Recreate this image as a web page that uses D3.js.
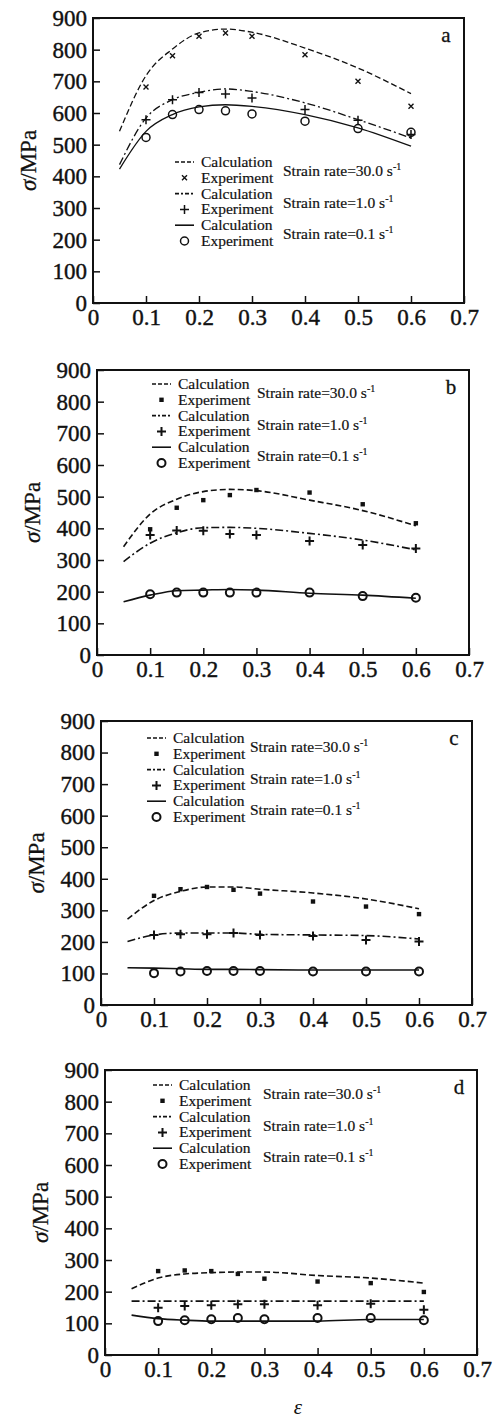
<!DOCTYPE html>
<html lang="en">
<head>
  <meta charset="utf-8">
  <title>Flow stress: calculation vs experiment</title>
  <script src="https://d3js.org/d3.v7.min.js"></script>
  <style>
    body { margin: 0; padding: 0; background: #fff; }
    svg { display: block; }
    svg text { font-family: "Liberation Serif", "Times New Roman", Times, serif; }
  </style>
</head>
<body>
  <svg id="chart" width="496" height="1418"></svg>
  <script>
    // strain values
    const calcX = [0.05, 0.1, 0.15, 0.2, 0.25, 0.3, 0.4, 0.5, 0.6];
    const expX = [0.1, 0.15, 0.2, 0.25, 0.3, 0.4, 0.5, 0.6];
    const xTicks = [0, 0.1, 0.2, 0.3, 0.4, 0.5, 0.6, 0.7];
    const xTickLabels = ["0", "0.1", "0.2", "0.3", "0.4", "0.5", "0.6", "0.7"];
    const yTicks = [0, 100, 200, 300, 400, 500, 600, 700, 800, 900];
    const rateLabels = ["30.0", "1.0", "0.1"];

    // panel a
    const aCalc30 = [542, 718, 802, 853, 865, 855, 805, 742, 661];
    const aExp30 = [682, 781, 842, 853, 842, 784, 700, 621];
    const aCalc1 = [437, 584, 642, 665, 676, 668, 632, 579, 521];
    const aExp1 = [579, 642, 665, 660, 647, 611, 577, 532];
    const aCalc01 = [423, 542, 595, 619, 626, 621, 595, 553, 495];
    const aExp01 = [523, 595, 611, 607, 597, 574, 551, 539];
    // panel b
    const bCalc30 = [342, 445, 492, 516, 523, 519, 489, 456, 408];
    const bExp30 = [397, 465, 489, 505, 521, 513, 476, 416];
    const bCalc1 = [295, 353, 386, 402, 403, 400, 384, 363, 332];
    const bExp1 = [379, 393, 392, 382, 379, 360, 347, 336];
    const bCalc01 = [168, 189, 203, 205, 207, 205, 195, 189, 179];
    const bExp01 = [192, 197, 197, 197, 197, 197, 186, 181];
    // panel c
    const cCalc30 = [272, 331, 360, 374, 374, 367, 355, 336, 305];
    const cExp30 = [346, 367, 374, 365, 353, 328, 312, 288];
    const cCalc1 = [201, 222, 228, 228, 228, 224, 222, 220, 209];
    const cExp1 = [222, 224, 224, 228, 222, 219, 206, 201];
    const cCalc01 = [118, 117, 115, 113, 113, 112, 111, 111, 111];
    const cExp01 = [101, 106, 108, 108, 108, 106, 106, 106];
    // panel d
    const dCalc30 = [209, 243, 256, 260, 262, 262, 251, 243, 227];
    const dExp30 = [265, 267, 265, 256, 241, 232, 227, 199];
    const dCalc1 = [170, 170, 170, 170, 170, 170, 170, 170, 170];
    const dExp1 = [149, 155, 157, 160, 160, 157, 162, 143];
    const dCalc01 = [126, 115, 110, 107, 107, 107, 107, 112, 112];
    const dExp01 = [107, 110, 113, 117, 113, 117, 117, 110];

    const panels = [
      { id: "a", left: 93, right: 464, top: 18, bottom: 303, legX: 175, legY: 162, rateX: 283, cross: true,
        calc: [aCalc30, aCalc1, aCalc01], exp: [aExp30, aExp1, aExp01] },
      { id: "b", left: 97, right: 469, top: 370, bottom: 655, legX: 152, legY: 384, rateX: 257, cross: false,
        calc: [bCalc30, bCalc1, bCalc01], exp: [bExp30, bExp1, bExp01] },
      { id: "c", left: 101, right: 472, top: 721, bottom: 1005, legX: 147, legY: 738, rateX: 250, cross: false,
        calc: [cCalc30, cCalc1, cCalc01], exp: [cExp30, cExp1, cExp01] },
      { id: "d", left: 105, right: 477, top: 1070, bottom: 1355, legX: 153, legY: 1085, rateX: 263, cross: false,
        calc: [dCalc30, dCalc1, dCalc01], exp: [dExp30, dExp1, dExp01] }
    ];

    const dashes = ["6,3", "8,3,2,3", null];
    const serif = "'Liberation Serif', 'Times New Roman', serif";
    const svg = d3.select("#chart");

    function drawMarker(g, kind, cx, cy, cross) {
      if (kind === 0) {
        if (cross) {
          g.append("path")
            .attr("d", `M${cx - 2.5},${cy - 2.5}L${cx + 2.5},${cy + 2.5}M${cx - 2.5},${cy + 2.5}L${cx + 2.5},${cy - 2.5}`)
            .attr("stroke", "#111").attr("stroke-width", 1.4).attr("fill", "none");
        } else {
          g.append("rect").attr("x", cx - 2.2).attr("y", cy - 2.2)
            .attr("width", 4.4).attr("height", 4.4).attr("fill", "#111");
        }
      } else if (kind === 1) {
        g.append("path")
          .attr("d", `M${cx - 4.5},${cy}L${cx + 4.5},${cy}M${cx},${cy - 4.5}L${cx},${cy + 4.5}`)
          .attr("stroke", "#111").attr("stroke-width", cross ? 1.5 : 2).attr("fill", "none");
      } else {
        g.append("circle").attr("cx", cx).attr("cy", cy).attr("r", 4)
          .attr("fill", "none").attr("stroke", "#111").attr("stroke-width", cross ? 1.5 : 2);
      }
    }

    panels.forEach(p => {
      const x = d3.scaleLinear().domain([0, 0.7]).range([p.left, p.right]);
      const y = d3.scaleLinear().domain([0, 900]).range([p.bottom, p.top]);
      const g = svg.append("g");

      // axes with inward ticks
      const xAxis = g.append("g")
        .attr("transform", `translate(0,${p.bottom})`)
        .call(d3.axisBottom(x).tickValues(xTicks).tickSize(-7).tickPadding(6)
          .tickFormat((d, i) => xTickLabels[i]));
      const yAxis = g.append("g")
        .attr("transform", `translate(${p.left},0)`)
        .call(d3.axisLeft(y).tickValues(yTicks).tickSize(-7).tickPadding(6));
      [xAxis, yAxis].forEach(ax => {
        ax.attr("font-family", serif).attr("font-size", 23);
        ax.select(".domain").remove();
        ax.selectAll("line").attr("stroke", "#111").attr("stroke-width", 1.5);
        ax.selectAll("text").attr("fill", "#111")
          .attr("stroke", "#111").attr("stroke-width", 0.4);
      });

      g.append("rect")
        .attr("x", p.left).attr("y", p.top)
        .attr("width", p.right - p.left).attr("height", p.bottom - p.top)
        .attr("fill", "none").attr("stroke", "#111").attr("stroke-width", 2);

      // y label
      const yl = g.append("text")
        .attr("transform", `translate(${p.left - 57},${(p.top + p.bottom) / 2}) rotate(-90)`)
        .attr("text-anchor", "middle")
        .attr("font-size", 23).attr("fill", "#111")
        .attr("stroke", "#111").attr("stroke-width", 0.3);
      yl.append("tspan").attr("font-style", "italic").text("σ");
      yl.append("tspan").text("/MPa");

      // panel letter
      g.append("text").attr("x", p.right - 18).attr("y", p.top + 24)
        .attr("text-anchor", "middle").attr("font-size", 21).attr("fill", "#111")
        .attr("stroke", "#111").attr("stroke-width", 0.3).text(p.id);

      // calculation curves
      const line = d3.line().x((d, i) => x(calcX[i])).y(d => y(d)).curve(d3.curveMonotoneX);
      p.calc.forEach((vals, k) => {
        g.append("path").datum(vals)
          .attr("d", line)
          .attr("fill", "none").attr("stroke", "#111")
          .attr("stroke-width", p.cross ? 1.3 : 1.6)
          .attr("stroke-dasharray", dashes[k]);
      });

      // experimental markers
      p.exp.forEach((vals, k) => {
        vals.forEach((v, i) => drawMarker(g, k, x(expX[i]), y(v), p.cross));
      });

      // legend
      const step = 15.8;
      const lg = g.append("g");
      for (let k = 0; k < 3; k++) {
        const r0 = p.legY + 2 * k * step;
        const r1 = r0 + step;
        lg.append("line").attr("x1", p.legX).attr("x2", p.legX + 19)
          .attr("y1", r0).attr("y2", r0)
          .attr("stroke", "#111").attr("stroke-width", 1.6)
          .attr("stroke-dasharray", dashes[k] ? (k === 0 ? "4,2" : "4,2,2,2") : null);
        drawMarker(lg, k, p.legX + 9.5, r1, p.cross);
        lg.append("text").attr("x", p.legX + 26).attr("y", r0 + 5)
          .attr("font-size", 15.5).attr("fill", "#111")
          .attr("stroke", "#111").attr("stroke-width", 0.2).text("Calculation");
        lg.append("text").attr("x", p.legX + 26).attr("y", r1 + 5)
          .attr("font-size", 15.5).attr("fill", "#111")
          .attr("stroke", "#111").attr("stroke-width", 0.2).text("Experiment");
        const t = lg.append("text").attr("x", p.rateX).attr("y", (r0 + r1) / 2 + 6)
          .attr("font-size", 15.5).attr("fill", "#111")
          .attr("stroke", "#111").attr("stroke-width", 0.2);
        t.append("tspan").text(`Strain rate=${rateLabels[k]} s`);
        t.append("tspan").attr("font-size", 10).attr("dy", -6).text("-1");
      }
    });

    // shared x label
    svg.append("text").attr("x", 298).attr("y", 1414)
      .attr("text-anchor", "middle").attr("font-size", 21)
      .attr("font-style", "italic").attr("fill", "#111").text("ε");
  </script>
</body>
</html>
